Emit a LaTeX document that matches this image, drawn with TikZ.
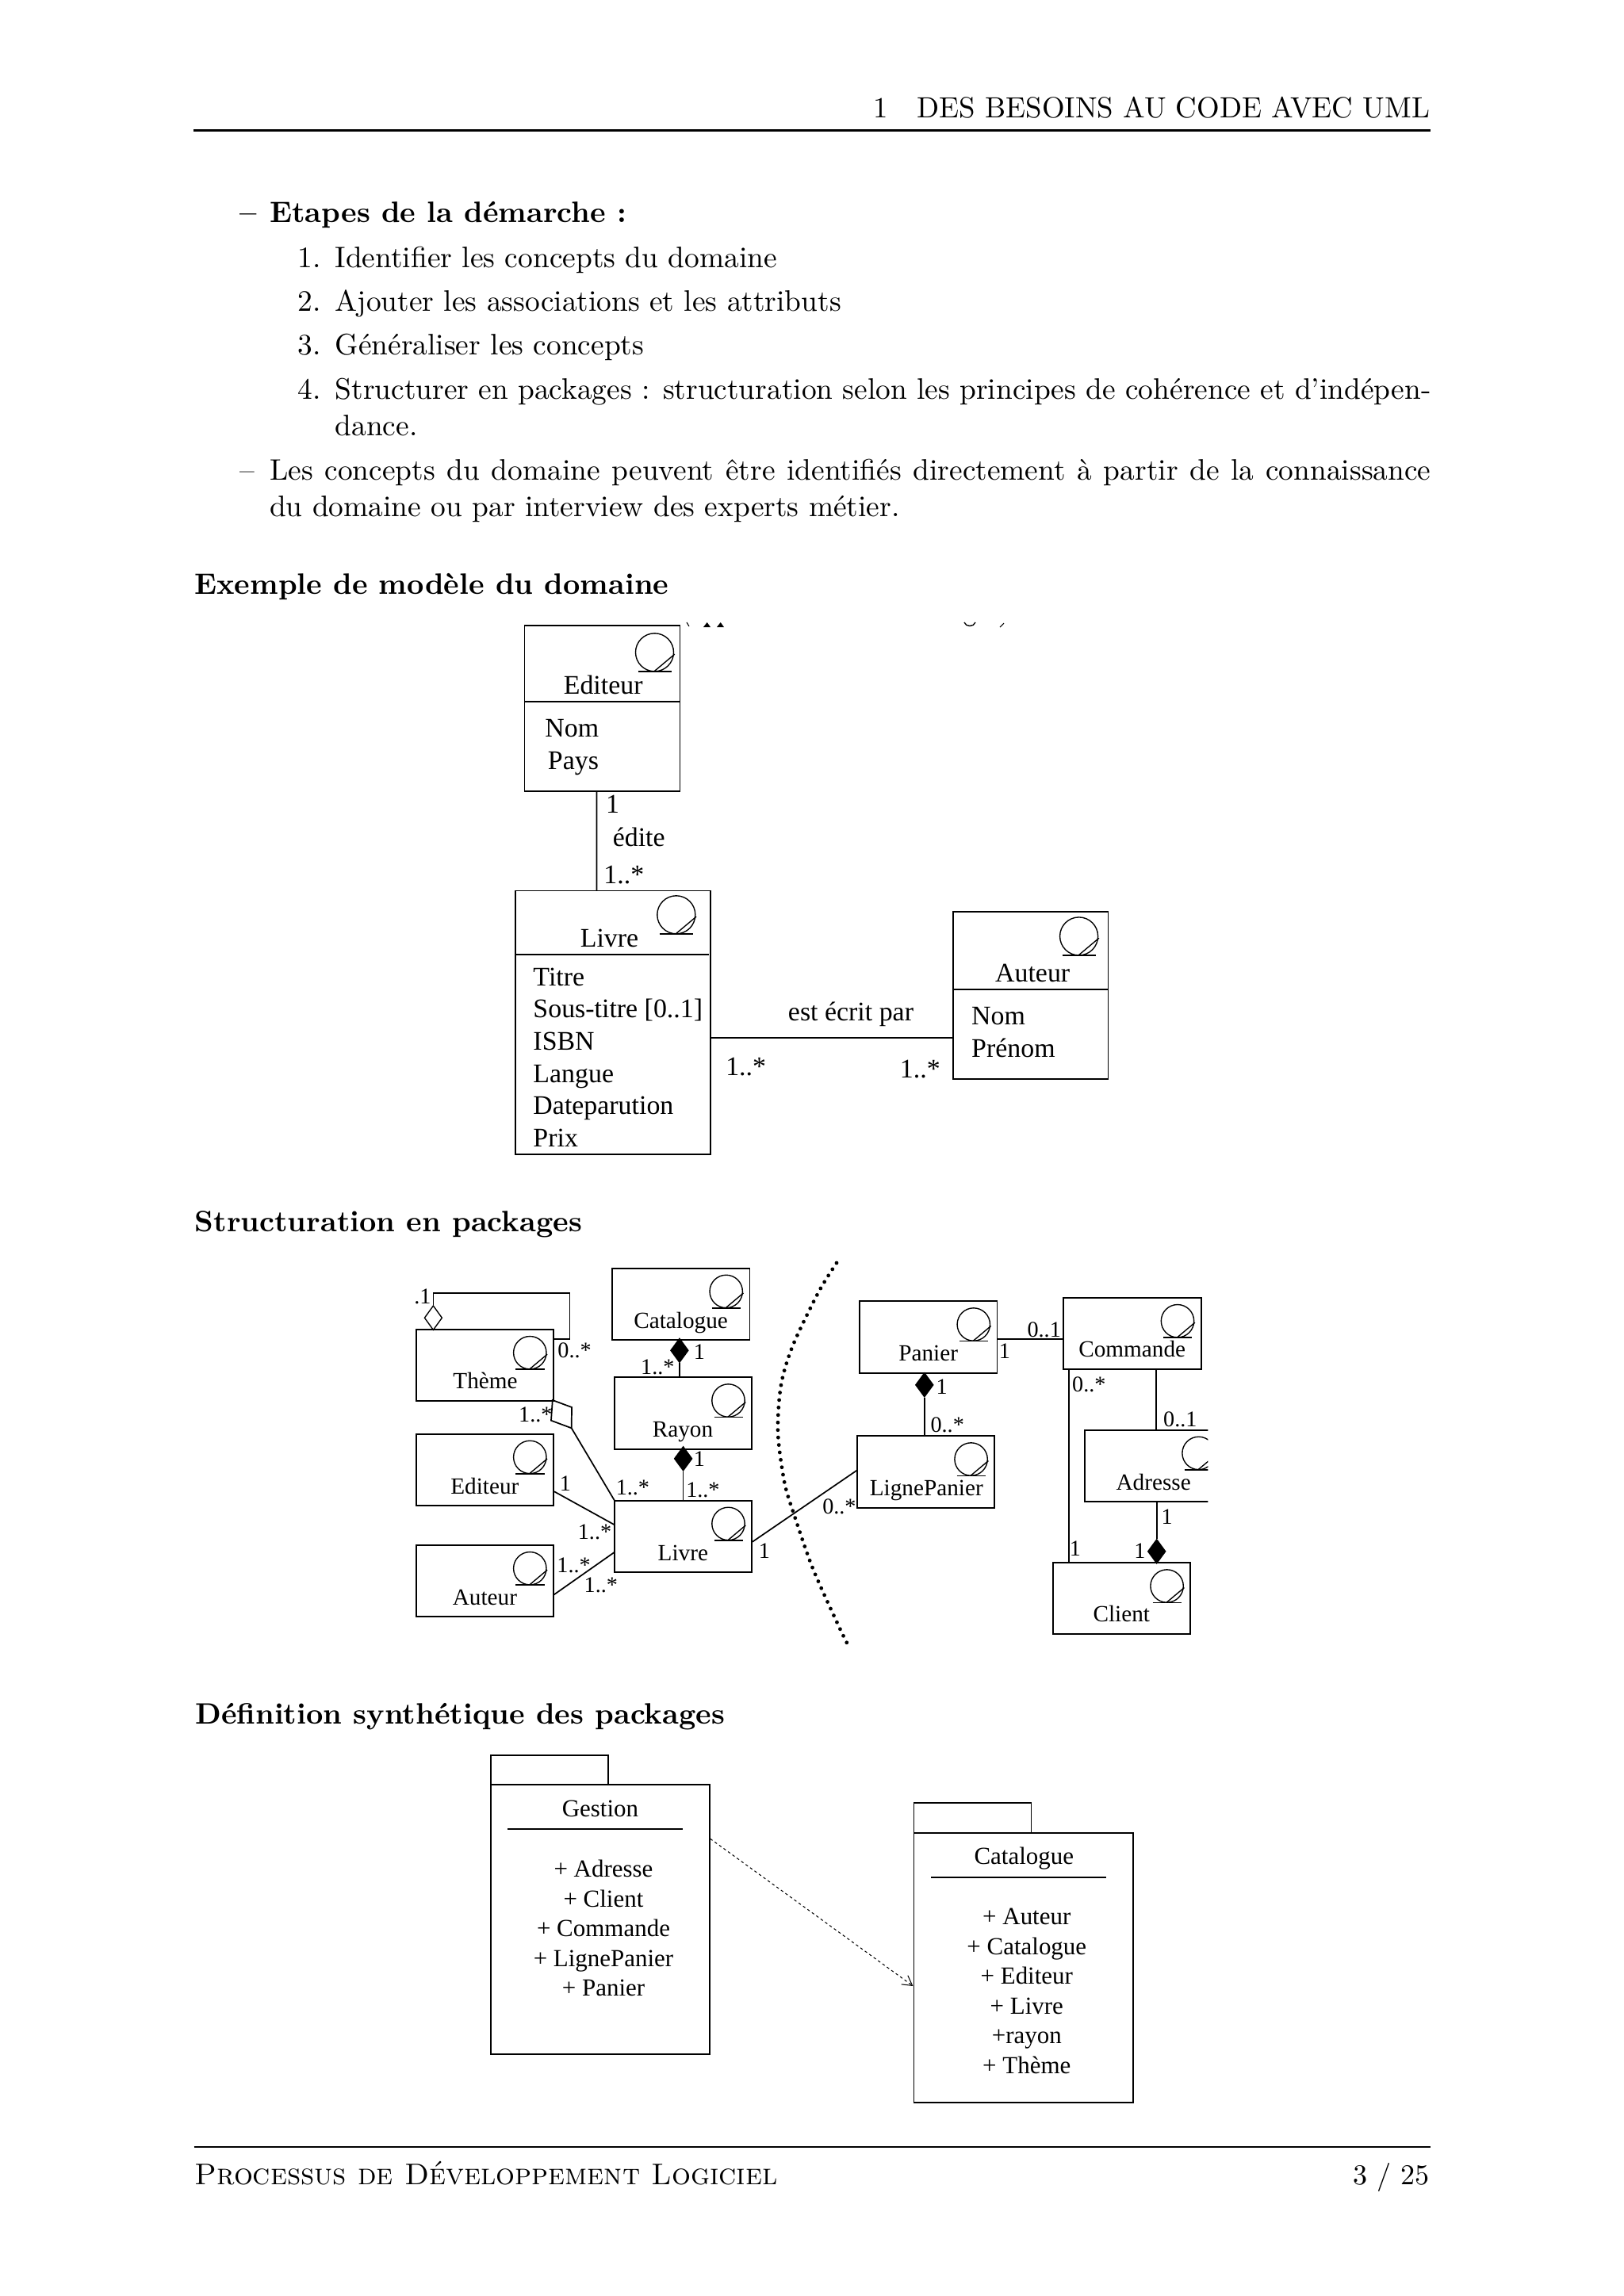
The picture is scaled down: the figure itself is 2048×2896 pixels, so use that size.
\documentclass[tikz,border=0pt]{standalone}
\usepackage{fontspec}
\usetikzlibrary{arrows.meta,calc,shapes.geometric}
\newfontfamily\figfont{Liberation Serif}
\newcommand{\px}{0.2907pt}
\tikzset{
  classe/.style 2 args={draw,line width=0.5pt,inner sep=0pt,outer sep=0pt,anchor=north west,minimum width=#1*\px,minimum height=#2*\px},
  corps/.style={inner sep=0pt,anchor=base west,font=\fontsize{10.87}{13}\selectfont},
  titre/.style={inner sep=0pt,anchor=base west,font=\fontsize{10.8}{13}\selectfont\bfseries},
  nomA/.style={inner sep=0pt,anchor=base,font=\figfont\fontsize{9.85}{11.8}\selectfont},
  attrA/.style={inner sep=0pt,anchor=north west,align=left,font=\figfont\fontsize{9.85}{11.8}\selectfont},
  nomB/.style={inner sep=0pt,anchor=base,font=\figfont\fontsize{8.5}{10}\selectfont},
  mult/.style={inner sep=0pt,anchor=base,font=\figfont\fontsize{8.2}{10}\selectfont},
  lienp/.style={line width=0.5pt},
  losangeN/.style={diamond,draw,fill=black,inner sep=0pt,minimum width=22.5*\px,minimum height=30.5*\px},
  losangeB/.style={diamond,draw,fill=white,inner sep=0pt,minimum width=22.5*\px,minimum height=31*\px},
  titreP/.style={inner sep=0pt,anchor=base,font=\figfont\fontsize{9}{10.9}\selectfont},
  itemsP/.style={inner sep=0pt,anchor=north,align=center,font=\figfont\fontsize{9}{10.9}\selectfont},
  entite/.pic={
    \draw[line width=0.4pt] (0,0) circle[radius=20.7];
    \draw[line width=0.4pt] (-18,20.9) -- (18.2,20.9);
    \draw[line width=0.4pt] (-0.7,20.9) -- (21.8,2);
  }
}
\newcommand{\icone}[1]{\pic at ($(#1.north east)+(-29.7,29.2)$) {entite};}

\begin{document}
\begin{tikzpicture}[x=\px,y=-\px,>=Stealth]
  \useasboundingbox (0,0) rectangle (2048,2896);

  % header
  \node[corps,anchor=base east,font=\fontsize{10.7}{13}\selectfont] (entete) at (1803.7,148.5) {1\quad DES BESOINS AU CODE AVEC UML};
  \draw[line width=0.7pt] (244,164.6) -- (1804,164.6);

  % text of the page
  \node[titre] (tiretA) at (301.6,280.8) {--};
  \node[titre] (etapes) at (339.4,280.8) {Etapes de la démarche :};
  \node[corps] (numA) at (375,337.2) {1.};
  \node[corps] (ligneA) at (422,337.2) {Identifier les concepts du domaine};
  \node[corps] (numB) at (375,392.3) {2.};
  \node[corps] (ligneB) at (422,392.3) {Ajouter les associations et les attributs};
  \node[corps] (numC) at (375,447.8) {3.};
  \node[corps] (ligneC) at (422,447.8) {Généraliser les concepts};
  \node[corps] (numD) at (375,503.3) {4.};
  \node[corps] (ligneD) at (422,503.3) {\makebox[401.7pt][s]{Structurer en packages : structuration selon les principes de cohérence et d’indépen-}};
  \node[corps] (ligneE) at (422,549.7) {dance.};
  \node[corps] (tiretB) at (301.6,605.2) {--};
  \node[corps] (ligneF) at (339.4,605.2) {\makebox[425.7pt][s]{Les concepts du domaine peuvent être identifiés directement à partir de la connaissance}};
  \node[corps] (ligneG) at (339.4,651.6) {du domaine ou par interview des experts métier.};

  % --- modele du domaine ---
  \node[titre] (secA) at (244.5,749.2) {Exemple de modèle du domaine};
  % what is left of a cut line of text
  \draw[line width=0.3pt] (866,785) -- (869,790);
  \fill (887,791) -- (891.7,785) -- (896,791) -- cycle;
  \fill (904,791) -- (908.7,785) -- (913,791) -- cycle;
  \draw[line width=0.4pt] (1216,785) .. controls (1218,791) and (1228,791) .. (1230,785);
  \draw[line width=0.3pt] (1261,791) -- (1266,786);

  \node[classe={196}{209}] (editeur) at (661.6,789.3) {};
  \draw[lienp] (661.6,885.2) -- (857.6,885.2);
  \pic[scale=1.16] at (825.5,822.8) {entite};
  \node[nomA] (editeurNom) at (760.7,875.6) {Editeur};
  \node[attrA] (editeurAttr) at (686.8,906.6) {Nom\\\hspace{1pt}Pays};

  \node[classe={246.4}{332.5}] (livre) at (649.8,1123.5) {};
  \draw[lienp] (649.8,1203.9) -- (893.5,1203.9);
  \pic[scale=1.16] at (852.8,1153.8) {entite};
  \node[nomA] (livreNom) at (768.5,1194.7) {Livre};
  \node[attrA] (livreAttr) at (671.8,1220.2) {Titre\\Sous-titre [0..1]\\ISBN\\Langue\\Dateparution\\Prix};

  \node[classe={195.5}{210.7}] (auteur) at (1202,1150.2) {};
  \draw[lienp] (1202,1248) -- (1397.5,1248);
  \pic[scale=1.16] at (1360.6,1180.9) {entite};
  \node[nomA] (auteurNom) at (1302.2,1238.3) {Auteur};
  \node[attrA] (auteurAttr) at (1224.5,1269.8) {Nom\\Prénom};

  \draw[lienp] ($(editeur.south west)+(91,0)$) -- ($(livre.north west)+(102.8,0)$);
  \draw[lienp] ($(livre.north east)+(0,185.5)$) -- ($(auteur.north west)+(0,158.8)$);
  \node[nomA] (edA) at (772.5,1025.7) {1};
  \node[nomA] (edite) at (805.7,1067.5) {édite};
  \node[nomA] (edB) at (786.9,1114.4) {1..*};
  \node[nomA] (ecrit) at (1073,1287.5) {est écrit par};
  \node[nomA] (ecA) at (940.7,1356.8) {1..*};
  \node[nomA] (ecB) at (1160.3,1359) {1..*};

  % --- structuration ---
  \node[titre] (secB) at (245,1553.3) {Structuration en packages};

  \node[classe={173}{90.3}] (theme) at (525,1677) {};
  \node[classe={173}{90.3}] (editeurB) at (525,1808.7) {};
  \node[classe={173}{90.3}] (auteurB) at (525,1949) {};
  \node[classe={173.4}{90.3}] (catalogue) at (772,1599.7) {};
  \node[classe={173.2}{90.6}] (rayon) at (775,1737.3) {};
  \node[classe={173.2}{90.6}] (livreB) at (775,1892.7) {};
  \node[classe={173.5}{90.4}] (panier) at (1084,1641.3) {};
  \node[classe={173.4}{90}] (commande) at (1341.3,1637) {};
  \node[classe={173.3}{90.4}] (lignePanier) at (1081,1811.3) {};
  \node[classe={173}{90}] (client) at (1328.3,1971.3) {};
  \icone{theme}
  \icone{editeurB}
  \icone{auteurB}
  \icone{catalogue}
  \icone{rayon}
  \icone{livreB}
  \icone{panier}
  \icone{commande}
  \icone{lignePanier}
  \icone{client}
  % this box is cut on its right side
  \begin{scope}
    \clip (1360,1795) rectangle (1523.3,1900);
    \node[classe={173}{90.6}] (adresse) at (1368.3,1803.7) {};
    \icone{adresse}
  \end{scope}

  \node[nomB] (themeNom) at (612,1751.7) {Thème};
  \node[nomB] (editeurBNom) at (611.4,1884) {Editeur};
  \node[nomB] (auteurBNom) at (611.4,2024) {Auteur};
  \node[nomB] (catalogueNom) at (858.6,1675) {Catalogue};
  \node[nomB] (rayonNom) at (861,1812.7) {Rayon};
  \node[nomB] (livreBNom) at (861.4,1968.3) {Livre};
  \node[nomB] (panierNom) at (1170.7,1716) {Panier};
  \node[nomB] (commandeNom) at (1427.7,1711.7) {Commande};
  \node[nomB] (lignePanierNom) at (1168.3,1886.7) {LignePanier};
  \node[nomB] (adresseNom) at (1454.7,1879.3) {Adresse};
  \node[nomB] (clientNom) at (1414.3,2045.7) {Client};

  % aggregations
  \node[losangeB] (losTheme) at (546.4,1662.2) {};
  \draw[lienp] ($(theme.north east)+(0,11.7)$) -- ++(20.4,0) -- ++(0,-57.7) -| (losTheme.north);
  \node[losangeN] (losCatalogue) at (856.9,1703.3) {};
  \draw[lienp] (losCatalogue.south) -- (losCatalogue.south |- rayon.north);
  \node[losangeN] (losRayon) at (861.6,1839.8) {};
  \draw[lienp] (losRayon.south) -- (losRayon.south |- livreB.north);
  \node[losangeN] (losPanier) at (1165.8,1746.8) {};
  \draw[lienp] (losPanier.south) -- (losPanier.south |- lignePanier.north);
  \node[losangeN] (losClient) at (1458.7,1956.8) {};
  \draw[lienp] (losClient.north) -- (losClient.north |- adresse.south);

  \coordinate (parA) at (696.8,1766);
  \coordinate (parB) at (721,1775);
  \coordinate (parC) at (720.7,1801.3);
  \coordinate (parD) at (695,1791.7);
  \draw[lienp] (parA) -- (parB) -- (parC) -- (parD) -- cycle;
  \draw[lienp] (parC) -- (livreB.north west);

  % associations
  \draw[lienp] ($(editeurB.north east)+(1,72.6)$) -- ($(livreB.north west)+(0,30.6)$);
  \draw[lienp] ($(auteurB.north east)+(0.7,62.3)$) -- ($(livreB.north west)+(0,65)$);
  \draw[lienp] ($(livreB.north east)+(0.7,52)$) -- ($(lignePanier.north west)+(0,43)$);
  \draw[lienp] ($(panier.north east)+(0,47.4)$) -- ($(commande.north west)+(0,51.7)$);
  \draw[lienp] ($(commande.south west)+(6.4,0)$) -- ($(client.north west)+(19.4,0)$);
  \draw[lienp] ($(commande.south west)+(117,0)$) -- ($(adresse.north west)+(90,0)$);

  % separation of the two packages
  \draw[line width=1.4pt,line cap=round,dash pattern=on 0pt off 2.75pt] plot[smooth] coordinates {(1055,1593) (1032.1,1630) (1000,1696.7) (985,1746.7) (981,1806.7) (989.3,1870) (1001.8,1911.7) (1025,1978.3) (1058,2051.7) (1071,2078)};

  \node[mult] (mA) at (532.9,1644) {.1};
  \node[mult] (mB) at (724.6,1712.3) {0..*};
  \node[mult] (mC) at (881.8,1714) {1};
  \node[mult] (mD) at (829.3,1733) {1..*};
  \node[mult] (mE) at (881.8,1849.7) {1};
  \node[mult] (mF) at (886.4,1888.3) {1..*};
  \node[mult] (mG) at (797.9,1885) {1..*};
  \node[mult] (mH) at (675.4,1793.3) {1..*};
  \node[mult] (mI) at (712.9,1880.7) {1};
  \node[mult] (mJ) at (750,1941.7) {1..*};
  \node[mult] (mK) at (723.6,1983.3) {1..*};
  \node[mult] (mL) at (757.9,2008.3) {1..*};
  \node[mult] (mM) at (963.9,1965) {1};
  \node[mult] (mN) at (1058.4,1909) {0..*};
  \node[mult] (mO) at (1316.7,1686) {0..1};
  \node[mult] (mP) at (1267,1713.3) {1};
  \node[mult] (mQ) at (1187.7,1758.3) {1};
  \node[mult] (mR) at (1194.7,1806.7) {0..*};
  \node[mult] (mS) at (1373.3,1755) {0..*};
  \node[mult] (mT) at (1488.3,1799.3) {0..1};
  \node[mult] (mU) at (1471.7,1922.3) {1};
  \node[mult] (mV) at (1437.3,1965) {1};
  \node[mult] (mW) at (1356,1962.3) {1};

  % --- packages ---
  \node[titre] (secC) at (245.6,2174.3) {Définition synthétique des packages};

  \node[classe={276.1}{340}] (gestion) at (619.1,2251) {};
  \node[classe={147.6}{37.3},anchor=south west] (gestionTab) at (gestion.north west) {};
  \node[titreP] (gestionNom) at (756.9,2291.7) {Gestion};
  \draw[lienp] (640.4,2307) -- (861.4,2307);
  \node[itemsP] (gestionItems) at (761,2345.7) {+ Adresse\\+ Client\\+ Commande\\+ LignePanier\\+ Panier};

  \node[classe={276.8}{340}] (catalogueP) at (1152.4,2311.7) {};
  \node[classe={148.1}{37.7},anchor=south west] (catalogueTab) at (catalogueP.north west) {};
  \node[titreP] (cataloguePNom) at (1291.3,2351.7) {Catalogue};
  \draw[lienp] (1174.2,2367.7) -- (1395.3,2367.7);
  \node[itemsP] (catalogueItems) at (1294.8,2406.7) {+ Auteur\\+ Catalogue\\+ Editeur\\+ Livre\\+rayon\\+ Thème};

  \draw[line width=0.3pt,dash pattern=on 1pt off 1pt,-{Straight Barb[length=3.5pt,width=4pt]}] ($(gestion.north east)+(0.6,68.3)$) -- ($(catalogueP.north west)+(-1,193.3)$);

  % footer
  \draw[line width=0.7pt] (244.5,2708) -- (1804,2708);
  \node[corps,font=\fontsize{10.95}{13}\selectfont] (pied) at (244.5,2755.3) {\textsc{Processus de Développement Logiciel}};
  \node[corps,anchor=base east,font=\fontsize{10.5}{13}\selectfont] (page) at (1803.7,2755.3) {3 / 25};
\end{tikzpicture}
\end{document}
